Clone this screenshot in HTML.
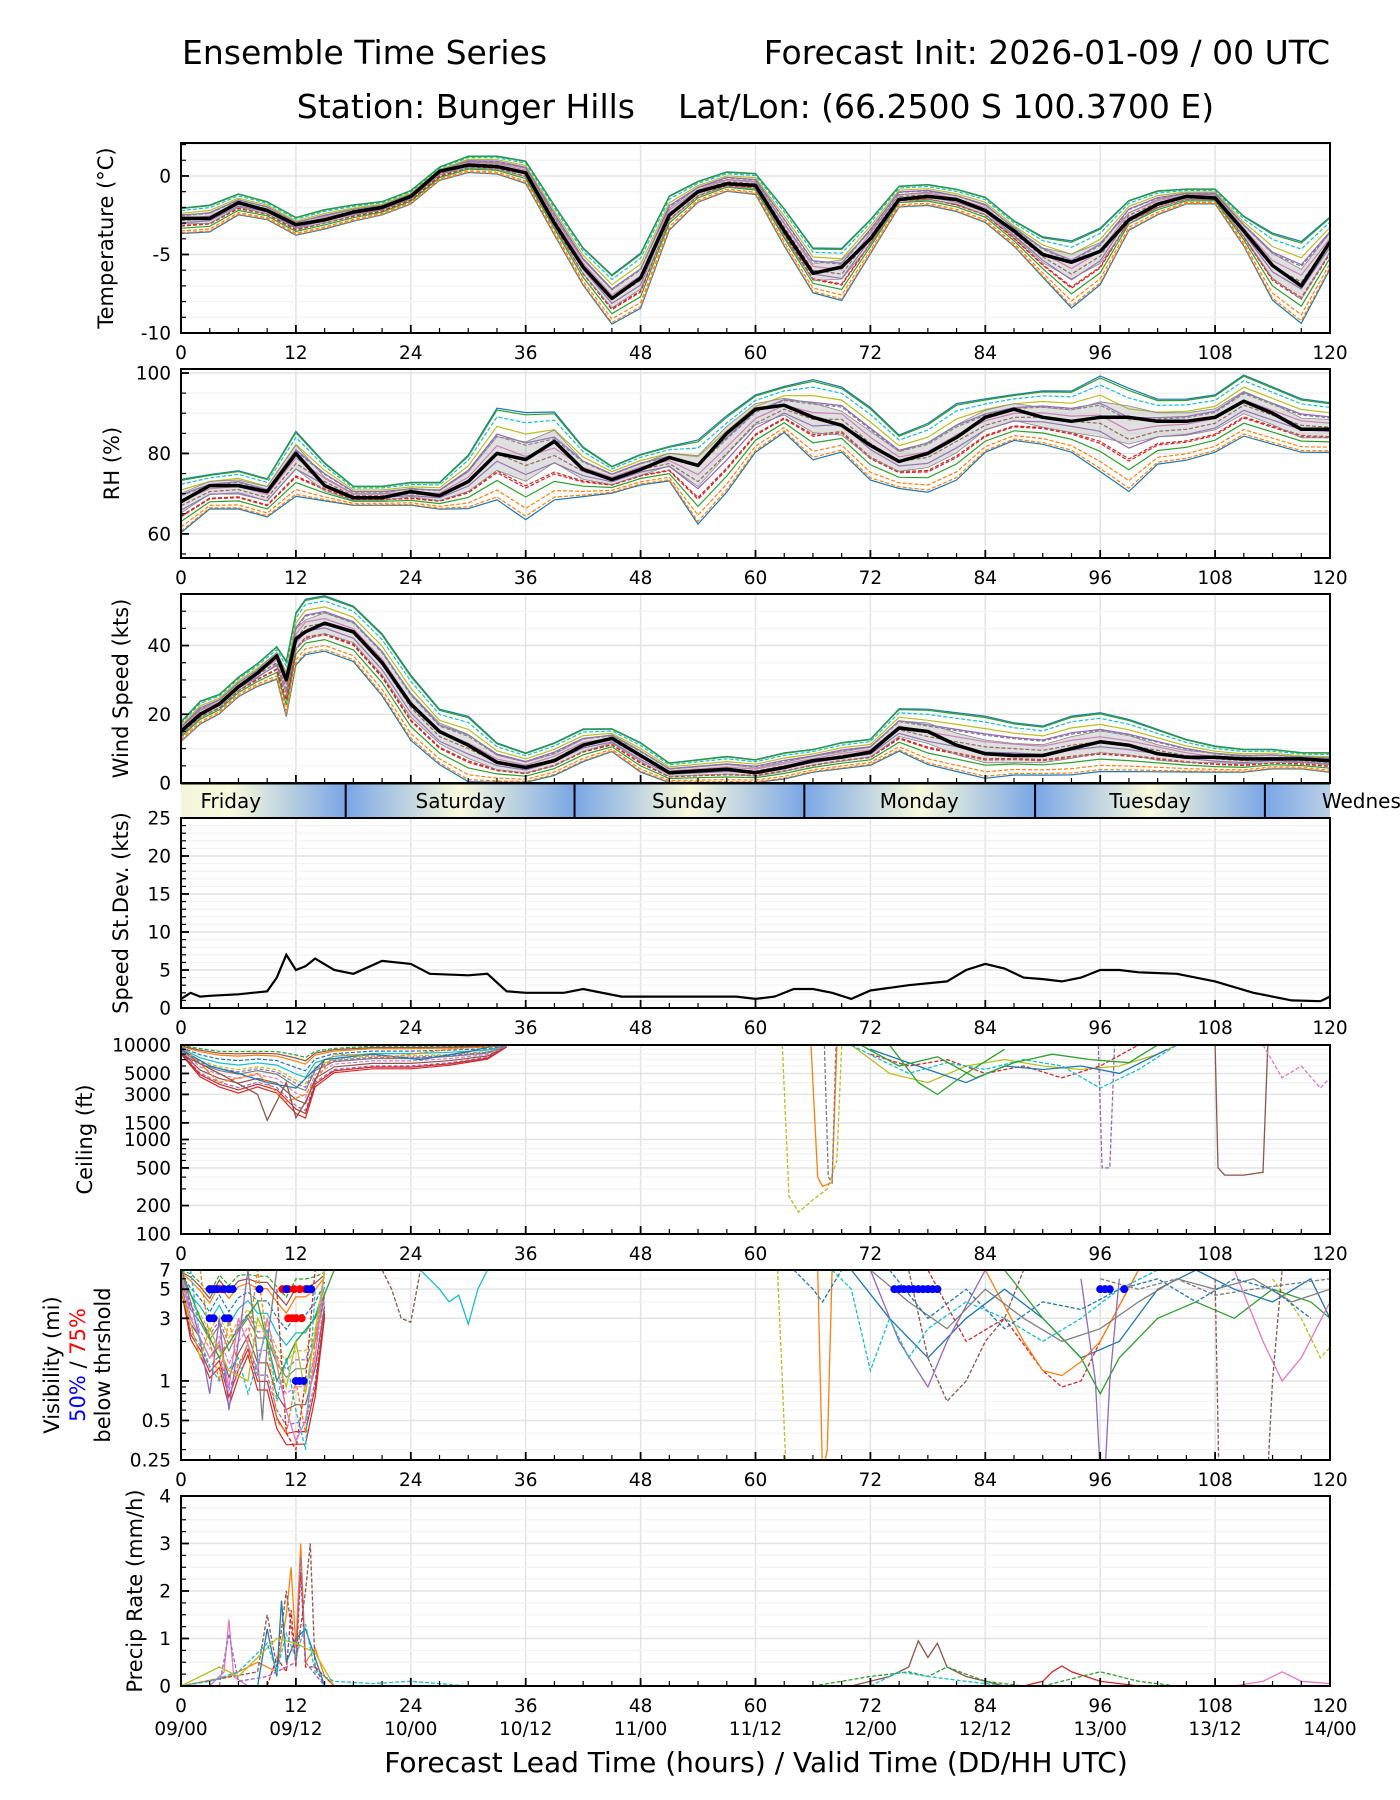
<!DOCTYPE html>
<html><head><meta charset="utf-8">
<style>
html,body{margin:0;padding:0;background:#fff;}
svg{display:block;font-family:"DejaVu Sans","Liberation Sans",sans-serif;}
</style></head>
<body>
<svg id="fig" width="1400" height="1800" viewBox="0 0 1400 1800" xmlns="http://www.w3.org/2000/svg">
<defs>
<linearGradient id="dayGrad" x1="181" x2="1330" y1="0" y2="0" gradientUnits="userSpaceOnUse"></linearGradient>
</defs>
<text x="182" y="64" font-size="33">Ensemble Time Series</text>
<text x="1330" y="64" font-size="33" text-anchor="end">Forecast Init: 2026-01-09 / 00 UTC</text>
<text x="635" y="118" font-size="33" text-anchor="end">Station: Bunger Hills</text>
<text x="678" y="118" font-size="33">Lat/Lon: (66.2500 S 100.3700 E)</text>
<g id="layer"></g>
</svg>
<script>
// ---------- DATA ----------
const tHours = [0,3,6,9,12,15,18,21,24,27,30,33,36,39,42,45,48,51,54,57,60,63,66,69,72,75,78,81,84,87,90,93,96,99,102,105,108,111,114,117,120];
const tempMean = [-2.7,-2.7,-1.7,-2.2,-3.1,-2.8,-2.3,-2.0,-1.3,0.3,0.7,0.6,0.2,-3.0,-5.8,-7.8,-6.5,-2.5,-1.0,-0.5,-0.6,-3.5,-6.2,-5.8,-4.0,-1.5,-1.3,-1.5,-2.2,-3.5,-5.0,-5.5,-4.8,-2.8,-1.8,-1.3,-1.4,-3.5,-5.7,-7.0,-4.2];
const tempHi = [-2.0,-1.8,-1.1,-1.6,-2.6,-2.1,-1.8,-1.6,-0.9,0.6,1.3,1.3,1.0,-1.8,-4.5,-6.2,-4.8,-1.2,-0.3,0.3,0.2,-2.0,-4.5,-4.5,-2.7,-0.6,-0.5,-0.8,-1.3,-2.8,-3.8,-4.0,-3.2,-1.5,-0.9,-0.8,-0.8,-2.5,-3.5,-4.0,-2.5];
const tempLo = [-3.7,-3.6,-2.5,-2.8,-3.8,-3.4,-2.9,-2.5,-1.8,-0.3,0.2,0.1,-0.5,-3.8,-7.0,-9.5,-8.5,-3.5,-1.7,-1.0,-1.2,-4.5,-7.5,-8.0,-5.0,-2.0,-1.9,-2.3,-3.0,-4.5,-6.5,-8.5,-7.0,-3.5,-2.5,-1.8,-1.8,-4.5,-8.0,-9.5,-6.0];

const rhHours = tHours;
const rhMean = [68,72,72,70.5,80,72,69,69,70.5,69.5,73,80,78.5,83,76,73.5,76,79,77,85,91,92,89,87,82,78,80,84,89,91,89,88,89,89,88,88,89,93,90,86,86];
const rhHi = [74,75,76,74,86,78,72,72,73,73,80,92,91,91,82,77,80,82,84,90,95,97,99,97,92,85,88,93,94,95,96,96,100,97,94,94,95,100,97,94,93];
const rhLo = [60,66,66,64,69,68,67,67,67,66,66,68,63,68,69,70,72,73,62,70,80,85,78,80,73,71,70,73,80,83,82,80,75,70,77,78,80,84,82,80,80];

const wHours = [0,2,4,6,8,10,11,12,13,15,18,21,24,27,30,33,36,39,42,45,48,51,54,57,60,63,66,69,72,75,78,81,84,87,90,93,96,99,102,105,108,111,114,117,120];
const windMean = [15,20,23,28,32,37,30,42,44,46.5,44,35,23,15,11,6,4.5,6.5,11,13,8,3,3.5,4,3,4.5,6.5,7.5,9,16,15,11,8.5,8,8,10,12,11,8.5,7.5,7.5,7,7,7,6.5];
const windHi = [18,24,26,31,35,40,36,50,54,55,52,44,32,22,20,12,9,12,16,16,12,6,7,8,7,9,10,12,13,22,22,21,20,18,17,20,21,19,16,13,11,10,10,9,9];
const windLo = [12,17,20,25,28,30,19,34,37,38,35,25,12,5,0,0,0,2,6,9,3,0,0,0,0,1,3,4,5,9,5,3,1,2,2,2,3,3,3,3,3,3,4,4,3];

const sdHours = [0,1,2,3,6,9,10,11,12,13,14,16,18,21,24,26,30,32,34,36,40,42,46,50,54,58,60,62,64,66,68,70,72,76,80,82,84,86,88,90,92,94,96,98,100,104,108,112,116,119,120];
const sdVals = [1.2,2.0,1.5,1.6,1.8,2.2,4.0,7.0,5.0,5.5,6.5,5.0,4.5,6.2,5.8,4.5,4.3,4.5,2.2,2.0,2.0,2.5,1.5,1.5,1.5,1.5,1.2,1.5,2.5,2.5,2.0,1.2,2.3,3.0,3.5,5.0,5.8,5.2,4.0,3.8,3.5,4.0,5.0,5.0,4.7,4.5,3.5,2.0,1.0,0.9,1.5];

// ceiling early-period envelope (ft)
const ceilEnvHours=[0,2,4,6,8,10,12,13,14,16,20,24,28,32,34];
const ceilEnvHi=[10000,9500,9000,9000,9000,9000,8500,8000,9000,9500,10000,10000,10000,10000,10000];
const ceilEnvLo=[8000,4500,3500,3000,3500,3000,1800,1600,3500,5000,5500,5500,6000,7000,9500];
// ceiling members (ft)
const ceilH1=[0,3,6,9,12,15,20,25,30,33], ceilV1=[9000,6000,5000,4000,3500,7000,8000,7000,8500,10000];
const ceilH2=[0,4,8,11,13,16,22,28,34], ceilV2=[10000,4000,5000,2500,3000,8000,7500,9000,10000];
const ceilH3=[0,4,8,9,11,12,13,15], ceilV3=[8000,5000,3000,1600,4000,1700,2500,7000];
const ceilH4=[62.8,63.5,64.5,66,67.5,68.5,69], ceilV4=[10000,250,170,230,300,600,10000];
const ceilH5=[65.8,66.5,67,68,68.5], ceilV5=[10000,400,320,350,10000];
const ceilH6=[67.2,67.6,68,68.4], ceilV6=[10000,400,350,10000];
const ceilH7=[108,108.3,109,111,113,113.5], ceilV7=[10000,500,420,420,450,10000];
const ceilH8=[95.8,96.2,97,97.5], ceilV8=[10000,500,500,10000];
const ceilH9=[70,74,78,82,86,90,94,98,102,104], ceilV9=[10000,5000,4000,6000,7000,6000,5500,6000,8000,10000];
const ceilH10=[72,76,80,84,88,92,96,100], ceilV10=[8000,6000,7000,5000,6000,4500,6000,10000];
const ceilH11=[72,78,82,86,90,94,98,103], ceilV11=[9000,5500,4000,6000,5500,6000,5000,9000];
const ceilH12=[113,115,117,119,120], ceilV12=[10000,4500,6000,3500,4500];
const ceilH13=[74,77,79,82,86], ceilV13=[10000,4000,3000,5000,9000];
const ceilH14=[70,73,76,80,84,88,92,96,100,104], ceilV14=[10000,7000,5000,6500,5500,7000,6000,3500,5500,10000];
const ceilH15=[71,75,79,83,87,91,95,99,102], ceilV15=[10000,6000,7500,4500,6500,8000,7000,6500,10000];

// visibility early-period envelope (mi)
const visEnvHours=[0,1,2,3,4,5,6,7,8,9,10,11,12,13,14,15];
const visEnvHi=[7,7,6,5,7,6,7,7,7,7,6,5,7,7,7,7];
const visEnvLo=[5,2,1.5,1,1.2,0.6,1,1.5,0.8,0.8,0.4,0.3,0.3,0.3,0.7,3];
// visibility members (mi)
const visH1=[0,1,2,3,4,5,6,7], visV1=[7,4,2,0.8,3,0.6,2,7];
const visH2=[2,3,4,5,6,7,8,9,10,11,12,13,14,15], visV2=[7,2,1,3,1.2,2,7,2,0.5,0.4,1,0.4,2,7];
const visH3=[7,8,8.5,9,10], visV3=[7,1.5,0.5,2,7];
const visH4=[10,11,12,13,14], visV4=[5,0.4,0.3,1,7];
const visH5=[0,2,4,6,8,10,12,14,16], visV5=[7,3,1.5,2.5,4,1,2,3,7];
const visH6=[21,22,23,24,25], visV6=[7,5,3,2.8,7];
const visH7=[25,27,28,29,30,31,32], visV7=[7,5,4,4.5,2.7,5,7];
const visH8=[62.3,62.8,63.2,63.5], visV8=[7,1,0.2,0.2];
const visH9=[66.5,67,67.5,68], visV9=[7,0.2,0.3,7];
const visH10=[64,66,67,69], visV10=[7,5,4,7];
const visH11=[70,74,78,82,86,90,94,98,102,106,110,114,118,120], visV11=[7,3,1.5,3,5,3,1.5,2,5,7,5,4,6,3];
const visH12=[78,82,86,90,92,94,96,100], visV12=[7,2,3,1.2,0.9,1,2,7];
const visH13=[86,90,94,96,98,102,106,110,114,118,120], visV13=[7,3,1.5,0.8,1.5,3,4,3,5,4,3];
const visH14=[76,78,80,82,84,86,88], visV14=[7,1.5,0.7,1,2,3,7];
const visH15=[84,88,90,92,94,96,100], visV15=[7,2,1.2,1.1,1.4,2,7];
const visH16=[96,100,104,108,112,116,120], visV16=[6,5,6,4.5,5,5.5,6];
const visH17=[94,95.5,96,96.5,97,98], visV17=[6,1,0.2,0.2,1,6];
const visH18=[108,108.4,109], visV18=[6,0.2,0.2];
const visH19=[110,113,115,117,120], visV19=[7,2,1,1.5,4];
const visH20=[114,117,119,120], visV20=[6,3,1.5,1.8];
const visH21=[72,75,78,80,84], visV21=[7,2,0.9,2,7];
const visH22=[113.5,114,115], visV22=[0.2,1,7];
const visH23=[0,1,3,4,5,6,8,9,11,12,13,14,15], visV23=[7,3,1.5,2,0.9,3,1.2,3,0.6,0.35,0.5,1.5,7];
const visH24=[1,2,3,4,6,7,9,10,11,12,13,14], visV24=[7,2,1.3,1,1.5,0.8,2.5,0.7,1.5,0.6,0.3,5];
const visH25=[0,2,3,5,7,8,10,11,12,13,15], visV25=[5,1.5,2.5,1.2,1,3,1.5,0.9,2,0.8,7];
const visH26=[68,70,72,74,76,78,82,86,90,94,98,102], visV26=[7,5,1.2,3,1.5,2.5,4,3,2,3,5,7];
const visH27=[72,76,80,84,88,92,96,100,104,108,112,116,120], visV27=[7,4,2.5,5,3,2,2.5,4,6,5,6,4,5];
const visH28=[74,78,82,86,90,94,98,102,106,110,114,118], visV28=[7,3,5,2.5,4,3.5,5,6,4,6,5,3];

// visibility threshold dots
const dotHours50 = [3,3.4,3.8,4.5,5,5.4,3,3.4,4.6,5,8.2,11,13.2,13.6,12,12.4,12.8,74.5,75,75.5,76,76.5,77,77.5,78,78.5,79,96,96.5,97,98.5];
const dotVis50 = [5,5,5,5,5,5,3,3,3,3,5,5,5,5,1,1,1,5,5,5,5,5,5,5,5,5,5,5,5,5,5];
const dotHours75 = [3.2,3.6,4.2,10.6,11.2,11.8,12.4,13,11.2,11.6,12,12.6];
const dotVis75 = [5,5,5,5,5,5,5,5,3,3,3,3];

// precip members (mm/h)
const prH1=[0,5,8,10,11,11.5,12,12.5,13,14,15,16], prV1=[0,0.2,0.5,0.3,1.5,2.5,0.8,3.0,0.5,0.8,0.2,0];
const prH2=[0,8,9,10,11,12,13,13.5,14,15], prV2=[0,0.3,1.5,0.4,2.0,0.5,2.0,3.0,0.4,0];
const prH3=[3,4.5,5,5.5,7], prV3=[0,0.3,1.4,0.2,0];
const prH4=[9,10,11,11.5,12,12.5,13,14,16], prV4=[0,0.6,0.3,1.6,0.4,2.4,0.4,0.4,0];
const prH5=[8,9,10,10.5,11,12,13,15], prV5=[0,1.2,0.2,1.8,0.5,1.0,1.2,0];
const prH6=[4,5,6,9,12,12.5,13,15], prV6=[0,1.1,0.1,0.2,0.5,2.7,0.5,0];
const prH7=[70,74,76,77,78,79,80,82,86], prV7=[0,0.2,0.4,0.95,0.6,0.9,0.4,0.2,0];
const prH8=[66,72,76,78,80,84,88], prV8=[0,0.2,0.3,0.2,0.4,0.1,0];
const prH9=[88,90,91,92,93,96,100], prV9=[0,0.1,0.3,0.42,0.3,0.1,0];
const prH10=[90,94,96,98,100,104], prV10=[0,0.2,0.3,0.2,0.1,0];
const prH11=[110,113,115,117,120], prV11=[0,0.1,0.3,0.1,0.05];
const prH12=[72,75,78,82,86], prV12=[0,0.3,0.2,0.1,0];
const prH13=[0,2,4,6,8,10,12,14,16], prV13=[0,0.2,0.4,0.2,0.6,1.0,0.9,0.7,0];
const prH14=[0,3,6,9,10,11,12,13,14,16,20,24,30], prV14=[0,0.1,0.3,0.9,0.3,1.1,0.6,1.3,0.3,0.1,0.05,0.1,0];

const xTickHours = [0,12,24,36,48,60,72,84,96,108,120];
const xDateLabels = ["09/00","09/12","10/00","10/12","11/00","11/12","12/00","12/12","13/00","13/12","14/00"];
const dayNames = ["Friday","Saturday","Sunday","Monday","Tuesday","Wednesday"];
const dayBoundaries = [17.2,41.1,65.1,89.2,113.2];

// ---------- RENDER ----------
const NS="http://www.w3.org/2000/svg";
const L=181, R=1330;
const layer=document.getElementById('layer');
const colors=["#1f77b4","#ff7f0e","#2ca02c","#d62728","#9467bd","#8c564b","#e377c2","#7f7f7f","#bcbd22","#17becf"];
function xs(h){return L+h*(R-L)/120;}
function mk(tag,attrs,parent){const e=document.createElementNS(NS,tag);for(const k in attrs)e.setAttribute(k,attrs[k]);(parent||layer).appendChild(e);return e;}
function yScale(p,v){
  if(p.log){const a=Math.log10(p.min),b=Math.log10(p.max);return p.bottom-(Math.log10(v)-a)/(b-a)*(p.bottom-p.top);}
  return p.bottom-(v-p.min)/(p.max-p.min)*(p.bottom-p.top);
}
function pathD(p,hs,vs){let d="";for(let i=0;i<hs.length;i++){let v=vs[i];if(p.log&&v<=0)v=p.min*0.5;d+=(i?"L":"M")+xs(hs[i]).toFixed(1)+","+yScale(p,v).toFixed(1);}return d;}

const panels={
 temp:{top:143,bottom:333,min:-10,max:2.1,major:[-10,-5,0],minor:[-9,-8,-7,-6,-4,-3,-2,-1,1,2],label:"Temperature (°C)",lx:106,name:"temperature"},
 rh:{top:369,bottom:558,min:54,max:101,major:[60,80,100],minor:[55,65,70,75,85,90,95],label:"RH (%)",lx:112,name:"rh"},
 wind:{top:594,bottom:783,min:0,max:55,major:[0,20,40],minor:[5,10,15,25,30,35,45,50],label:"Wind Speed (kts)",lx:121,name:"wind-speed"},
 sd:{top:818,bottom:1008,min:0,max:25,major:[0,5,10,15,20,25],minor:[1,2,3,4,6,7,8,9,11,12,13,14,16,17,18,19,21,22,23,24],label:"Speed St.Dev. (kts)",lx:121,name:"speed-stdev"},
 ceil:{top:1045,bottom:1234,min:100,max:10000,log:true,major:[100,200,500,1000,1500,3000,5000,10000],minor:[300,400,600,700,800,900,2000,4000,6000,7000,8000,9000],label:"Ceiling (ft)",lx:85,name:"ceiling"},
 vis:{top:1270,bottom:1460,min:0.25,max:7,log:true,major:[0.25,0.5,1,3,5,7],minor:[0.3,0.4,0.6,0.7,0.8,0.9,2,4,6],label:null,lx:0,name:"visibility"},
 pr:{top:1496,bottom:1686,min:0,max:4,major:[0,1,2,3,4],minor:[0.25,0.5,0.75,1.25,1.5,1.75,2.25,2.5,2.75,3.25,3.5,3.75],label:"Precip Rate (mm/h)",lx:135,name:"precip-rate"}
};

function drawFrame(p){
  const g=mk('g',{});
  
  
  xTickHours.forEach(h=>{const l=mk('line',{x1:xs(h),x2:xs(h),y1:p.top,y2:p.bottom,stroke:"#e3e3e3","stroke-width":1.5},g);
    });
  p.minor.forEach(v=>{const y=yScale(p,v);const l=mk('line',{x1:L,x2:R,y1:y,y2:y,stroke:"#f2f2f2","stroke-width":1.2},g);
    });
  p.major.forEach(v=>{const y=yScale(p,v);const l=mk('line',{x1:L,x2:R,y1:y,y2:y,stroke:"#e3e3e3","stroke-width":1.5},g);
    });
  return g;
}
function drawAxes(p,showX){
  const g=mk('g',{});
  
  
  mk('rect',{x:L,y:p.top,width:R-L,height:p.bottom-p.top,fill:"none",stroke:"#000","stroke-width":2},g);
  for(let h=0;h<=120;h+=3){const maj=h%12===0;const t=mk('line',{x1:xs(h),x2:xs(h),y1:p.bottom,y2:p.bottom-(maj?8:5),stroke:"#000","stroke-width":maj?1.8:1.2},g);
    }
  p.major.forEach(v=>{const y=yScale(p,v);mk('line',{x1:L,x2:L+8,y1:y,y2:y,stroke:"#000","stroke-width":1.8},g);
    const t=mk('text',{x:171,y:y+6.5,"font-size":18.5,"text-anchor":"end"},g);t.textContent=String(v);
    });
  p.minor.forEach(v=>{const y=yScale(p,v);mk('line',{x1:L,x2:L+5,y1:y,y2:y,stroke:"#000","stroke-width":1.2},g);});
  if(showX){xTickHours.forEach(h=>{const t=mk('text',{x:xs(h),y:p.bottom+26,"font-size":18.5,"text-anchor":"middle"},g);t.textContent=String(h);
    });}
  if(p.label){const cy=(p.top+p.bottom)/2;const t=mk('text',{x:p.lx,y:cy,"font-size":21,"text-anchor":"middle",transform:`rotate(-90 ${p.lx} ${cy})`,"dominant-baseline":"central"},g);
    t.textContent=p.label;}
}
function clipFor(p){const id='c_'+p.name;const c=mk('clipPath',{id:id},document.querySelector('defs'));mk('rect',{x:L,y:p.top,width:R-L,height:p.bottom-p.top},c);return `url(#${id})`;}
function envelopeMembers(p,g,hs,lo,hi,fr,off){
  fr.forEach((f,i)=>{const vs=lo.map((l,j)=>p.log?Math.pow(10,Math.log10(l)+f*(Math.log10(hi[j])-Math.log10(l))):l+f*(hi[j]-l));
    const e=mk('path',{d:pathD(p,hs,vs),fill:"none",stroke:colors[(i+off)%10],"stroke-width":1.2,"stroke-dasharray":i%2?"4,2":"none"},g);
    });
}
function ensemblePanel(p,hs,mean,lo,hi,showX){
  drawFrame(p);
  const g=mk('g',{"clip-path":clipFor(p)});
  
  
  envelopeMembers(p,g,hs,lo,hi,[0.02,0.12,0.22,0.32,0.42,0.5,0.58,0.68,0.78,0.88,0.97,0.05,0.95,0.3,0.7],0);
  const up=mean.map((m,j)=>m+0.35*(hi[j]-m)), dn=mean.map((m,j)=>m-0.35*(m-lo[j]));
  let d=pathD(p,hs,up);for(let i=hs.length-1;i>=0;i--)d+="L"+xs(hs[i]).toFixed(1)+","+yScale(p,dn[i]).toFixed(1);d+="Z";
  const b=mk('path',{d:d,fill:"#999","fill-opacity":0.3,stroke:"#888","stroke-width":0.8},g);
  
  const m=mk('path',{d:pathD(p,hs,mean),fill:"none",stroke:"#000","stroke-width":3.5,"stroke-linejoin":"round"},g);
  
  drawAxes(p,showX);
}
function memberPanel(p,list,showX,env){
  drawFrame(p);
  const g=mk('g',{"clip-path":clipFor(p)});
  
  
  if(env)envelopeMembers(p,g,env[0],env[1],env[2],[0.03,0.15,0.25,0.35,0.45,0.55,0.65,0.75,0.85,0.95,0.1,0.5,0.9],3);
  list.forEach((s,i)=>{const e=mk('path',{d:pathD(p,s[0],s[1]),fill:"none",stroke:s[2]||colors[i%10],"stroke-width":1.3,"stroke-dasharray":i%2?"4,2":"none"},g);
    });
  p.sg=g;
  drawAxes(p,showX);
}

ensemblePanel(panels.temp,tHours,tempMean,tempLo,tempHi,true);
ensemblePanel(panels.rh,rhHours,rhMean,rhLo,rhHi,true);
ensemblePanel(panels.wind,wHours,windMean,windLo,windHi,false);

(function(){const p=panels.sd;drawFrame(p);
 const e=mk('path',{d:pathD(p,sdHours,sdVals),fill:"none",stroke:"#000","stroke-width":2.2,"clip-path":clipFor(p)});
 
 drawAxes(p,true);})();

memberPanel(panels.ceil,[[ceilH1,ceilV1],[ceilH2,ceilV2],[ceilH3,ceilV3,"#8c564b"],[ceilH4,ceilV4,"#bcbd22"],[ceilH5,ceilV5,"#ff7f0e"],[ceilH6,ceilV6,"#7f7f7f"],[ceilH7,ceilV7,"#8c564b"],[ceilH8,ceilV8,"#9467bd"],[ceilH9,ceilV9],[ceilH10,ceilV10,"#d62728"],[ceilH11,ceilV11],[ceilH12,ceilV12,"#e377c2"],[ceilH13,ceilV13],[ceilH14,ceilV14,"#17becf"],[ceilH15,ceilV15,"#2ca02c"]],true,[ceilEnvHours,ceilEnvLo,ceilEnvHi]);

memberPanel(panels.vis,[[visH1,visV1,"#9467bd"],[visH2,visV2,"#ff7f0e"],[visH3,visV3,"#7f7f7f"],[visH4,visV4,"#d62728"],[visH5,visV5,"#2ca02c"],[visH6,visV6,"#8c564b"],[visH7,visV7,"#17becf"],[visH8,visV8,"#bcbd22"],[visH9,visV9,"#ff7f0e"],[visH10,visV10,"#1f77b4"],[visH11,visV11,"#1f77b4"],[visH12,visV12,"#d62728"],[visH13,visV13,"#2ca02c"],[visH14,visV14,"#8c564b"],[visH15,visV15,"#ff7f0e"],[visH16,visV16,"#7f7f7f"],[visH17,visV17,"#9467bd"],[visH18,visV18,"#8c564b"],[visH19,visV19,"#e377c2"],[visH20,visV20,"#bcbd22"],[visH21,visV21,"#9467bd"],[visH22,visV22,"#8c564b"],[visH23,visV23,"#e377c2"],[visH24,visV24,"#17becf"],[visH25,visV25,"#bcbd22"],[visH26,visV26,"#17becf"],[visH27,visV27,"#7f7f7f"],[visH28,visV28,"#1f77b4"]],true,[visEnvHours,visEnvLo,visEnvHi]);
(function(){const p=panels.vis;
 dotHours75.forEach((h,i)=>{const c=mk('circle',{cx:xs(h),cy:yScale(p,dotVis75[i]),r:4,fill:"#ff0000"},p.sg);});
 dotHours50.forEach((h,i)=>{const c=mk('circle',{cx:xs(h),cy:yScale(p,dotVis50[i]),r:4,fill:"#0000ff"},p.sg);});
 const cy=(p.top+p.bottom)/2;
 const t1=mk('text',{x:52,y:cy,"font-size":21,"text-anchor":"middle","dominant-baseline":"central",transform:`rotate(-90 52 ${cy})`});t1.textContent="Visibility (mi)";
 
 const t2=mk('text',{x:78,y:cy,"font-size":21,"text-anchor":"middle","dominant-baseline":"central",transform:`rotate(-90 78 ${cy})`});
 const s1=mk('tspan',{fill:"#0000ff"},t2);s1.textContent="50%";const s2=mk('tspan',{},t2);s2.textContent=" / ";const s3=mk('tspan',{fill:"#ff0000"},t2);s3.textContent="75%";
 
 const t3=mk('text',{x:103,y:cy,"font-size":21,"text-anchor":"middle","dominant-baseline":"central",transform:`rotate(-90 103 ${cy})`});t3.textContent="below thrshold";
 
})();

memberPanel(panels.pr,[[prH1,prV1,"#ff7f0e"],[prH2,prV2,"#8c564b"],[prH3,prV3,"#e377c2"],[prH4,prV4,"#d62728"],[prH5,prV5,"#1f77b4"],[prH6,prV6,"#9467bd"],[prH7,prV7,"#8c564b"],[prH8,prV8,"#2ca02c"],[prH9,prV9,"#d62728"],[prH10,prV10,"#2ca02c"],[prH11,prV11,"#e377c2"],[prH12,prV12,"#17becf"],[prH13,prV13,"#bcbd22"],[prH14,prV14,"#17becf"]],true);
xDateLabels.forEach((s,i)=>{const t=mk('text',{x:xs(xTickHours[i]),y:1735,"font-size":18.5,"text-anchor":"middle"});t.textContent=s;
 });
(function(){const t=mk('text',{x:756,y:1772,"font-size":28,"text-anchor":"middle"});t.textContent="Forecast Lead Time (hours) / Valid Time (DD/HH UTC)";
 })();

// day band
(function(){
 const grad=document.getElementById('dayGrad');
 const blue="#7aa6e6", pale="#fafadc";
 const stops=[[0,"#f3f4dc"]];
 dayBoundaries.forEach(b=>{stops.push([b-12,pale]);stops.push([b,blue]);});
 stops.push([120,"#bcd0e6"]);
 stops.forEach(s=>{const off=Math.max(0,Math.min(1,s[0]/120));mk('stop',{offset:off,"stop-color":s[1]},grad);});
 const g=mk('g',{});
 
 
 mk('rect',{x:L,y:784,width:R-L,height:33,fill:"url(#dayGrad)"},g);
 dayBoundaries.forEach(b=>{const l=mk('line',{x1:xs(b),x2:xs(b),y1:784,y2:817,stroke:"#000","stroke-width":2},g);
   });
 mk('line',{x1:L,x2:R,y1:784,y2:784,stroke:"#000","stroke-width":1},g);
 const centers=[5.2].concat(dayBoundaries.map(b=>b+12));
 dayNames.forEach((n,i)=>{const t=mk('text',{x:xs(centers[i]),y:808,"font-size":20,"text-anchor":"middle"},g);t.textContent=n;
   });
})();
</script>
</body></html>
